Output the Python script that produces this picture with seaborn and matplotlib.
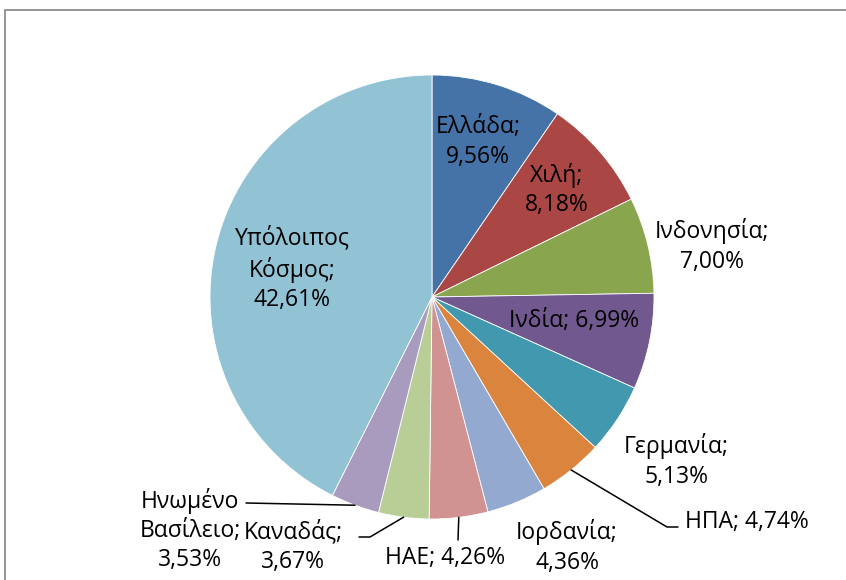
"""
Pie chart: share by country (Greek labels)
"""
import matplotlib
matplotlib.use('Agg')
import matplotlib.pyplot as plt
import seaborn as sns
import numpy as np

sns.set_style("white")
plt.rcParams['font.family'] = ['Open Sans', 'DejaVu Sans']

# Data
countries = ['Ελλάδα', 'Χιλή', 'Ινδονησία', 'Ινδία', 'Γερμανία', 'ΗΠΑ',
             'Ιορδανία', 'ΗΑΕ', 'Καναδάς', 'Ηνωμένο Βασίλειο', 'Υπόλοιπος Κόσμος']
shares = [9.56, 8.18, 7.00, 6.99, 5.13, 4.74, 4.36, 4.26, 3.67, 3.53, 42.61]
colors = ['#4572A7', '#AA4643', '#89A54E', '#71588F', '#4198AF', '#DB843D',
          '#93A9CF', '#D19392', '#B9CD96', '#A99BBD', '#92C3D4']

W, H = 846, 580
fig = plt.figure(figsize=(W / 100, H / 100), dpi=100)
ax = fig.add_axes([0, 0, 1, 1])


def px(x, y):
    # image pixel coords -> axes data coords
    return x, H - y


cx, cy = px(432, 297)
radius = 222
wedges, _ = ax.pie(shares, colors=colors, startangle=90, counterclock=False,
                   radius=radius, center=(cx, cy), frame=True,
                   wedgeprops=dict(edgecolor='white', linewidth=0.6))
ax.set_xlim(0, W)
ax.set_ylim(0, H)
ax.axis('off')

# chart area border (runs off the right and bottom edges)
fig.patches.append(plt.Rectangle((5 / W, -0.05), 1.05, 1.05 - 10 / H,
                                 transform=fig.transFigure, fill=False,
                                 edgecolor='#8c8c8c', linewidth=1.3))


def fmt(v):
    return f'{v:.2f}'.replace('.', ',') + '%'


labels = [
    ('Ελλάδα;\n' + fmt(shares[0]), 478, 142),
    ('Χιλή;\n' + fmt(shares[1]), 557, 190),
    ('Ινδονησία;\n' + fmt(shares[2]), 712, 246),
    ('Ινδία; ' + fmt(shares[3]), 574, 321),
    ('Γερμανία;\n' + fmt(shares[4]), 676, 461),
    ('ΗΠΑ; ' + fmt(shares[5]), 747, 522),
    ('Ιορδανία;\n' + fmt(shares[6]), 567, 547),
    ('ΗΑΕ; ' + fmt(shares[7]), 445, 558),
    ('Καναδάς;\n' + fmt(shares[8]), 293, 547),
    ('Ηνωμένο\nΒασίλειο;\n' + fmt(shares[9]), 190, 530),
    ('Υπόλοιπος\nΚόσμος;\n' + fmt(shares[10]), 292, 269),
]
for txt, x, y in labels:
    ax.text(*px(x, y), txt, ha='center', va='center', fontsize=16.5,
            color='black', linespacing=1.3)

# leader lines from wedge edge midpoints
def edge_point(i):
    w = wedges[i]
    ang = np.deg2rad((w.theta1 + w.theta2) / 2)
    return cx + radius * np.cos(ang), cy + radius * np.sin(ang)


leaders = {
    5: [px(667, 527), px(678, 527)],
    7: [px(458, 540)],
    8: [px(370, 537), px(359, 537)],
    9: [px(246, 503)],
}
for i, pts in leaders.items():
    x0, y0 = edge_point(i)
    xs = [x0] + [p[0] for p in pts]
    ys = [y0] + [p[1] for p in pts]
    ax.plot(xs, ys, color='black', linewidth=1.1)

plt.savefig('out.png', dpi=100)
plt.close()
